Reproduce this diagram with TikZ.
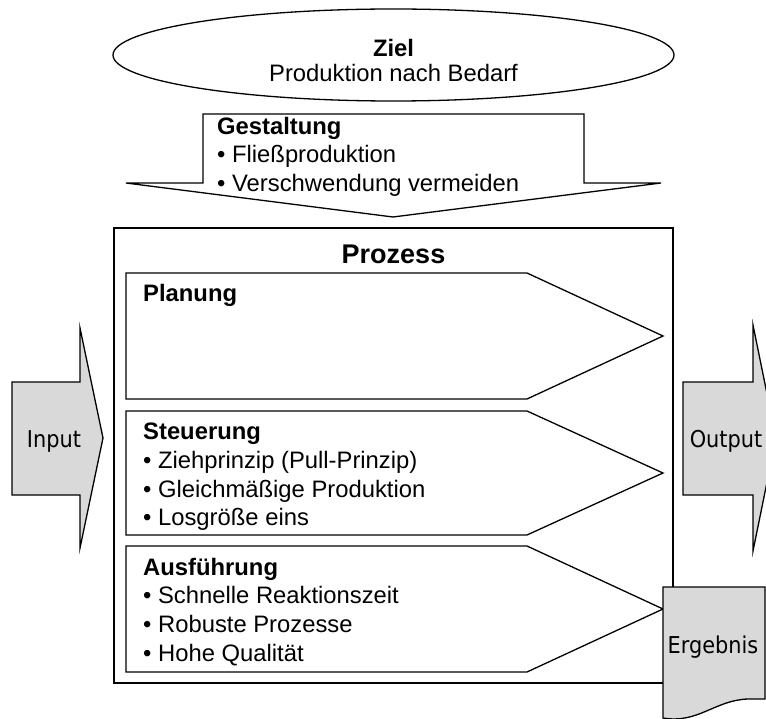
\documentclass[tikz,border=0pt]{standalone}
\usepackage{fontspec}
\setmainfont{Liberation Sans}
\newfontfamily\labelfont{DejaVu Sans Condensed}
\definecolor{shapegray}{RGB}{217,217,217}
\begin{document}
\begin{tikzpicture}[x=1pt,y=-1pt,
  outl/.style={draw=black,line width=1.3pt,line join=miter},
  boxline/.style={draw=black,line width=1.9pt},
  grayshape/.style={outl,fill=shapegray},
  txt/.style={anchor=base west,inner sep=0pt,font=\fontsize{23.8}{28.5}\selectfont},
  hd/.style={anchor=base west,inner sep=0pt,font=\fontsize{23.8}{28.5}\selectfont\bfseries},
  lbl/.style={anchor=base,inner sep=0pt,font=\labelfont\fontsize{23.2}{26}\selectfont}]
\useasboundingbox (0,0) rectangle (766,719);
\begin{scope}
\clip (0,0) rectangle (766,719);
% Ziel ellipse
\draw[outl] (393.5,55) ellipse [x radius=280.5pt, y radius=46pt];
\node[anchor=base,inner sep=0pt,font=\fontsize{23.8}{28.5}\selectfont\bfseries] (ziel) at (393.5,57) {Ziel};
\node[anchor=base,inner sep=0pt,font=\fontsize{23.8}{28.5}\selectfont] (zieltxt) at (393.5,82) {Produktion nach Bedarf};
% Gestaltung down arrow
\path[outl,fill=white] (203,114) -- (584,114) -- (584,183) -- (661,183) -- (393,217) -- (126,183) -- (203,183) -- cycle;
\node[hd] (gest) at (217,135) {Gestaltung};
\node[txt] (gest1) at (217,163) {• Fließproduktion};
\node[txt] (gest2) at (217,192) {• Verschwendung vermeiden};
% Prozess box
\path[boxline] (114,228) rectangle (673,683);
\node[anchor=base,inner sep=0pt,font=\fontsize{27}{30}\selectfont\bfseries] (proz) at (393.5,264) {Prozess};
% pentagons
\path[outl] (126,273) -- (527,273) -- (663,336) -- (527,399) -- (126,399) -- cycle;
\path[outl] (126,411) -- (527,411) -- (663,473) -- (527,535) -- (126,535) -- cycle;
\path[outl] (126,546) -- (527,546) -- (663,609) -- (527,672) -- (126,672) -- cycle;
\node[hd] (plan) at (143,302) {Planung};
\node[hd] (steu) at (143,439) {Steuerung};
\node[txt] (steu1) at (143,468) {• Ziehprinzip (Pull-Prinzip)};
\node[txt] (steu2) at (143,497) {• Gleichmäßige Produktion};
\node[txt] (steu3) at (143,525) {• Losgröße eins};
\node[hd] (ausf) at (143,575) {Ausführung};
\node[txt] (ausf1) at (143,603) {• Schnelle Reaktionszeit};
\node[txt] (ausf2) at (143,632) {• Robuste Prozesse};
\node[txt] (ausf3) at (143,661) {• Hohe Qualität};
% Input arrow
\path[grayshape] (12,382) -- (80,382) -- (80,328) -- (103,438) -- (80,548) -- (80,495) -- (12,495) -- cycle;
\node[lbl] (input) at (54,447) {Input};
% Output arrow
\path[grayshape] (683,382) -- (753,382) -- (753,325) -- (776,438) -- (753,551) -- (753,495) -- (683,495) -- cycle;
\node[lbl] (output) at (726,447) {Output};
% Ergebnis document
\path[grayshape] (663,587) -- (765,587) -- (765,699) -- (748,699) .. controls (715,700) and (698,724) .. (663,718) -- cycle;
\node[lbl] (erg) at (713,653) {Ergebnis};
\end{scope}
\end{tikzpicture}
\end{document}
